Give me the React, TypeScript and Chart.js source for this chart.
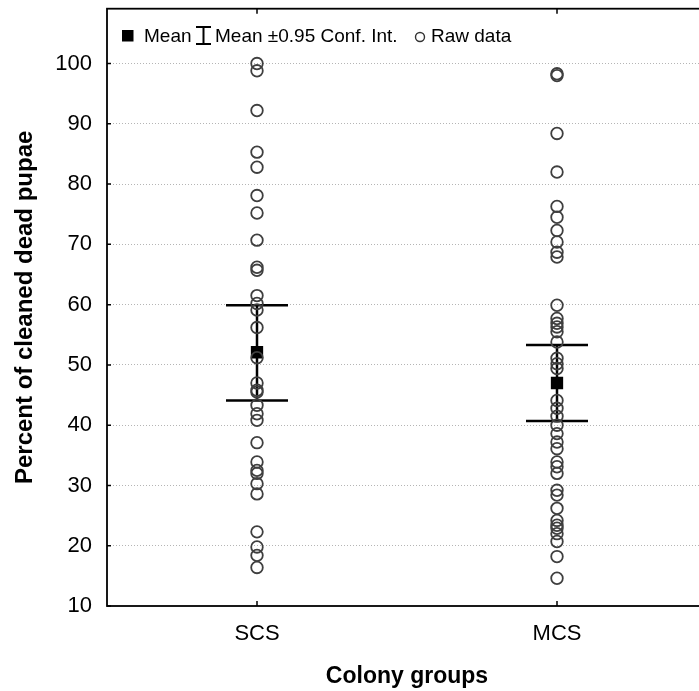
import React, { useEffect, useRef } from "react";
import { Chart, registerables } from "chart.js";

Chart.register(...registerables);

const categories = ["SCS", "MCS"];
const scsRaw = [100, 98.8, 92.2, 85.3, 82.8, 78.1, 75.2, 70.7, 66.2, 65.7, 61.5, 60.2, 59.1, 56.2, 51.2, 47.0, 45.8, 45.5, 43.3, 41.9, 40.8, 37.1, 33.9, 32.5, 32.0, 30.3, 28.6, 22.3, 19.8, 18.4, 16.4];
const mcsRaw = [98.3, 98.0, 88.4, 82.0, 76.3, 74.5, 72.3, 70.4, 68.7, 67.9, 59.9, 57.7, 56.9, 56.3, 55.5, 53.8, 51.1, 50.2, 49.4, 44.1, 42.8, 41.5, 40.0, 38.6, 37.2, 36.1, 33.9, 33.1, 32.0, 29.2, 28.4, 26.2, 24.2, 23.4, 22.9, 22.0, 20.7, 18.2, 14.6];
const means = [52.1, 47.0];
const ciLow = [44.1, 40.7];
const ciHigh = [59.9, 53.3];
const yTicks = [10, 20, 30, 40, 50, 60, 70, 80, 90, 100];
const legendLabels = ["Mean", "Mean \u00b10.95 Conf. Int.", "Raw data"];

const FONT = "'Liberation Sans', Arial, sans-serif";

const framePlugin = {
  id: "framePlugin",
  beforeDatasetsDraw(chart: any) {
    const { ctx, scales } = chart;
    const x = scales.x;
    const y = scales.y;
    ctx.save();
    ctx.strokeStyle = "#000";
    ctx.lineWidth = 2.5;
    categories.forEach((c, i) => {
      const px = x.getPixelForValue(i);
      const lo = y.getPixelForValue(ciLow[i]);
      const hi = y.getPixelForValue(ciHigh[i]);
      ctx.beginPath();
      ctx.moveTo(px, lo);
      ctx.lineTo(px, hi);
      ctx.moveTo(px - 31, lo);
      ctx.lineTo(px + 31, lo);
      ctx.moveTo(px - 31, hi);
      ctx.lineTo(px + 31, hi);
      ctx.stroke();
    });
    ctx.restore();
  },
  afterDraw(chart: any) {
    const { ctx, chartArea, scales } = chart;
    const { left, right, top, bottom } = chartArea;
    const x = scales.x;
    const y = scales.y;
    ctx.save();
    ctx.strokeStyle = "#000";
    ctx.lineWidth = 1.8;
    ctx.strokeRect(left, top, right - left, bottom - top);
    ctx.lineWidth = 1.5;
    ctx.beginPath();
    yTicks.forEach((v) => {
      const py = y.getPixelForValue(v);
      ctx.moveTo(left, py);
      ctx.lineTo(left + 4, py);
    });
    categories.forEach((c, i) => {
      const px = x.getPixelForValue(i);
      ctx.moveTo(px, bottom);
      ctx.lineTo(px, bottom - 5);
      ctx.moveTo(px, top);
      ctx.lineTo(px, top + 5);
    });
    ctx.stroke();

    // legend
    const ly = 36;
    ctx.fillStyle = "#000";
    ctx.fillRect(122, ly - 6, 11.5, 11.5);
    ctx.font = `19px ${FONT}`;
    ctx.textBaseline = "middle";
    ctx.textAlign = "left";
    ctx.fillText(legendLabels[0], 144, ly + 1);
    ctx.lineWidth = 2;
    ctx.beginPath();
    ctx.moveTo(196, ly - 9);
    ctx.lineTo(211, ly - 9);
    ctx.moveTo(203.5, ly - 9);
    ctx.lineTo(203.5, ly + 8);
    ctx.moveTo(196, ly + 8);
    ctx.lineTo(211, ly + 8);
    ctx.stroke();
    ctx.fillText(legendLabels[1], 215, ly + 1);
    ctx.strokeStyle = "#333";
    ctx.lineWidth = 1.4;
    ctx.beginPath();
    ctx.arc(420, ly + 1, 4.5, 0, Math.PI * 2);
    ctx.stroke();
    ctx.fillText(legendLabels[2], 431, ly + 1);
    ctx.restore();
  },
};

export default function App() {
  const ref = useRef<HTMLCanvasElement | null>(null);
  useEffect(() => {
    if (!ref.current) return;
    const rawData = [
      ...scsRaw.map((v) => ({ x: categories[0], y: v })),
      ...mcsRaw.map((v) => ({ x: categories[1], y: v })),
    ];
    const meanData = means.map((v, i) => ({ x: categories[i], y: v }));
    const chart = new Chart(ref.current, {
      type: "scatter",
      data: {
        datasets: [
          {
            label: "Raw data",
            data: rawData as any,
            pointStyle: "circle",
            pointRadius: 5.8,
            pointBorderWidth: 1.8,
            borderColor: "#3f3f3f",
            backgroundColor: "rgba(0,0,0,0)",
          },
          {
            label: "Mean",
            data: meanData as any,
            pointStyle: "rect",
            pointRadius: 8.7,
            pointBorderWidth: 0,
            borderColor: "#000",
            backgroundColor: "#000",
          },
        ],
      },
      plugins: [framePlugin],
      options: {
        animation: false,
        responsive: false,
        layout: { padding: { top: 8, right: 13, left: 0, bottom: 0 } },
        plugins: { legend: { display: false }, tooltip: { enabled: false } },
        scales: {
          x: {
            type: "category",
            labels: categories,
            offset: true,
            grid: { display: false, drawTicks: false },
            border: { display: false },
            ticks: { color: "#000", padding: 15, font: { family: FONT, size: 22 } },
            title: {
              display: true,
              text: "Colony groups",
              color: "#000",
              padding: { top: 0, bottom: 1 },
              font: { family: FONT, size: 23, weight: "bold" },
            },
            afterFit: (s: any) => {
              s.height = 85;
              s.paddingLeft = 0;
              s.paddingRight = 0;
            },
          },
          y: {
            type: "linear",
            min: 10,
            max: 109.1,
            afterBuildTicks: (s: any) => {
              s.ticks = yTicks.map((v) => ({ value: v }));
            },
            grid: {
              drawTicks: false,
              color: (c: any) => (c.tick && c.tick.value === 10 ? "rgba(0,0,0,0)" : "#b5b5b5"),
              lineWidth: 1,
            },
            border: { display: false, dash: [1, 2] },
            ticks: { color: "#000", padding: 15, font: { family: FONT, size: 22 } },
            title: {
              display: true,
              text: "Percent of cleaned dead pupae",
              color: "#000",
              padding: { top: 11, bottom: 0 },
              font: { family: FONT, size: 24, weight: "bold" },
            },
            afterFit: (s: any) => {
              s.width = 107;
              s.paddingTop = 0;
              s.paddingBottom = 0;
            },
          },
        },
      } as any,
    });
    return () => chart.destroy();
  }, []);
  return (
    <div style={{ position: "fixed", left: 0, top: 0, width: 699, height: 691, overflow: "hidden", background: "#fff" }}>
      <canvas ref={ref} width={720} height={691} style={{ display: "block" }} />
    </div>
  );
}
